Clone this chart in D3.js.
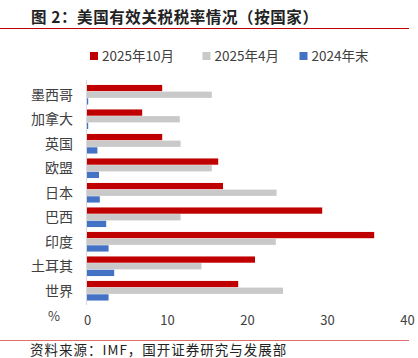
<!DOCTYPE html>
<html lang="zh">
<head>
<meta charset="UTF-8">
<title>美国有效关税税率情况</title>
<style>
  body { margin: 0; background: #fff; }
  svg { display: block; }
</style>
</head>
<body>
<svg id="chart" width="418" height="358"></svg>
<script src="https://d3js.org/d3.v7.min.js"></script>
<script>
// data (%)
var categories = ["墨西哥", "加拿大", "英国", "欧盟", "日本", "巴西", "印度", "土耳其", "世界"];
var oct2025 = [9.4, 6.9, 9.4, 16.4, 17.0, 29.4, 35.9, 21.0, 18.9];
var apr2025 = [15.6, 11.6, 11.7, 15.6, 23.7, 11.7, 23.6, 14.3, 24.5];
var end2024 = [0.15, 0.15, 1.3, 1.5, 1.6, 2.4, 2.7, 3.4, 2.7];
var seriesNames = ["2025年10月", "2025年4月", "2024年末"];
var xTicks = [0, 10, 20, 30, 40];

var colors = ["#c00000", "#c9c9c9", "#4472c4"];
var font = "'Noto Sans CJK SC', 'Noto Sans', sans-serif";

var svg = d3.select("#chart");

// title + red rules
svg.append("text")
  .attr("x", 31).attr("y", 23)
  .attr("font-family", font).attr("font-size", 15.5).attr("font-weight", "bold")
  .attr("letter-spacing", 0.6)
  .attr("fill", "#222")
  .text("图 2：美国有效关税税率情况（按国家）");

svg.append("line").attr("x1", 0).attr("x2", 409).attr("y1", 28.5).attr("y2", 28.5)
  .attr("stroke", "#c00000").attr("stroke-width", 1);
svg.append("line").attr("x1", 0).attr("x2", 409).attr("y1", 340.5).attr("y2", 340.5)
  .attr("stroke", "#e07070").attr("stroke-width", 1);

svg.append("text")
  .attr("x", 30).attr("y", 355)
  .attr("font-family", font).attr("font-size", 13.5)
  .attr("letter-spacing", 1)
  .attr("fill", "#222")
  .text("资料来源：IMF，国开证券研究与发展部");

// scales
var x = d3.scaleLinear().domain([0, 40]).range([87, 407]);
var y = d3.scaleBand().domain(categories).range([82.5, 303]).paddingInner(0.2).paddingOuter(0.1);
var sub = d3.scaleBand().domain([0, 1, 2]).range([0, y.bandwidth()]).paddingInner(0.06);

var rows = categories.map(function(c, i) {
  return { name: c, values: [oct2025[i], apr2025[i], end2024[i]] };
});

// bars
var g = svg.append("g");
var groups = g.selectAll("g.row").data(rows).enter().append("g")
  .attr("class", "row")
  .attr("transform", function(d) { return "translate(0," + y(d.name) + ")"; });

groups.selectAll("rect").data(function(d) { return d.values; }).enter().append("rect")
  .attr("x", x(0))
  .attr("y", function(d, i) { return sub(i); })
  .attr("width", function(d) { return x(d) - x(0); })
  .attr("height", sub.bandwidth())
  .attr("fill", function(d, i) { return colors[i]; });

// vertical axis line
svg.append("line").attr("x1", x(0) - 0.5).attr("x2", x(0) - 0.5)
  .attr("y1", 80).attr("y2", 305)
  .attr("stroke", "#d9d9d9").attr("stroke-width", 1);

// category labels
svg.selectAll("text.cat").data(categories).enter().append("text")
  .attr("class", "cat")
  .attr("x", 73)
  .attr("y", function(d) { return y(d) + y.bandwidth() / 2; })
  .attr("dy", "0.35em")
  .attr("text-anchor", "end")
  .attr("font-family", font).attr("font-size", 14)
  .attr("fill", "#404040")
  .text(function(d) { return d; });

// x axis tick labels
var xAxis = d3.axisBottom(x).tickValues(xTicks).tickSize(0).tickPadding(0);
var ax = svg.append("g").attr("transform", "translate(0,316)").call(xAxis);
ax.select(".domain").remove();
ax.selectAll("text")
  .attr("font-family", font).attr("font-size", 13)
  .attr("fill", "#404040").attr("dy", "0.71em");

svg.append("text")
  .attr("x", 54).attr("y", 316).attr("dy", "0.35em")
  .attr("text-anchor", "middle")
  .attr("font-family", font).attr("font-size", 13)
  .attr("fill", "#404040")
  .text("%");

// legend
var legendX = [90, 202.5, 299.5];
var leg = svg.selectAll("g.leg").data(seriesNames).enter().append("g")
  .attr("class", "leg")
  .attr("transform", function(d, i) { return "translate(" + legendX[i] + ",52)"; });
leg.append("rect").attr("width", 8).attr("height", 8).attr("fill", function(d, i) { return colors[i]; });
leg.append("text")
  .attr("x", 12).attr("y", 4).attr("dy", "0.35em")
  .attr("font-family", font).attr("font-size", 13.5)
  .attr("fill", "#404040")
  .text(function(d) { return d; });
</script>
</body>
</html>
